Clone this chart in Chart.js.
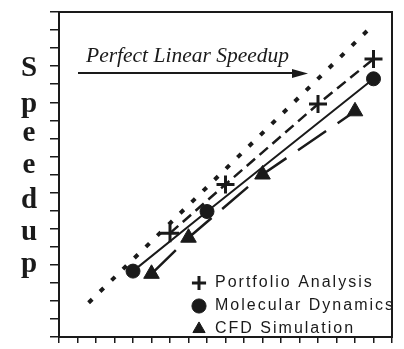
<!DOCTYPE html>
<html>
<head>
<meta charset="utf-8">
<script src="https://cdn.jsdelivr.net/npm/chart.js@4.4.0/dist/chart.umd.min.js"></script>
<style>
  html, body { margin: 0; padding: 0; background: #fff; }
  #wrap { position: relative; width: 404px; height: 349px; overflow: hidden; }
  #speedupChart { position: absolute; left: 0; top: 0; }
  .ylab { position: absolute; left: 14px; width: 30px; text-align: center; font: bold 29px "Liberation Serif", serif; line-height: 29px; color: #1a1a1a; }
  #note { position: absolute; left: 86px; top: 45px; font: italic 21.5px "Liberation Serif", serif; line-height: 21px; color: #1a1a1a; white-space: nowrap; }
</style>
</head>
<body>
<div id="wrap">
  <canvas id="speedupChart" width="404" height="349"></canvas>
  <div id="note">Perfect Linear Speedup</div>
</div>
<script>
        const axisMin = 0;
        const axisMax = 18;
        const tickStep = 1;

        const seriesNames = ['Portfolio Analysis', 'Molecular Dynamics', 'CFD Simulation'];
        const perfectX = [1.6, 17];
        const perfectY = [1.9, 17.3];
        const portfolioX = [6, 9, 14, 17];
        const portfolioY = [5.75, 8.45, 12.9, 15.4];
        const molecularX = [4, 8, 17];
        const molecularY = [3.65, 6.95, 14.3];
        const cfdX = [5, 7, 11, 16];
        const cfdY = [3.5, 5.5, 9.0, 12.5];

        const ink = '#1a1a1a';

        function toPoints(xs, ys) {
            return xs.map((x, i) => ({ x: x, y: ys[i] }));
        }

        // stacked letters for the y title
        const wrap = document.getElementById('wrap');
        const letterBase = [76.7, 112.4, 141.7, 173.3, 208.3, 240, 272];
        'Speedup'.split('').forEach((ch, i) => {
            const s = document.createElement('div');
            s.className = 'ylab';
            s.textContent = ch;
            s.style.top = (letterBase[i] - 24.3) + 'px';
            wrap.appendChild(s);
        });

        const legendSpot = {
            id: 'legendSpot',
            afterLayout(chart) {
                const lg = chart.legend;
                lg.left = 184;
                lg.top = 268;
                lg.right = chart.width;
                lg.bottom = lg.top + 80;
            },
            beforeDraw(chart) {
                chart.ctx.letterSpacing = '2px';
            },
            afterDraw(chart) {
                const ctx = chart.ctx;
                const a = chart.chartArea;
                ctx.save();
                ctx.letterSpacing = '0px';
                ctx.strokeStyle = ink;
                ctx.lineWidth = 2;
                ctx.strokeRect(a.left, a.top, a.right - a.left, a.bottom - a.top);
                // arrow under the note
                ctx.lineWidth = 2;
                ctx.beginPath();
                ctx.moveTo(78, 73);
                ctx.lineTo(296, 73);
                ctx.stroke();
                ctx.fillStyle = ink;
                ctx.beginPath();
                ctx.moveTo(308, 73.5);
                ctx.lineTo(292, 69);
                ctx.lineTo(292, 78);
                ctx.closePath();
                ctx.fill();
                ctx.restore();
            }
        };

        const ctx = document.getElementById('speedupChart').getContext('2d');
        const speedupChart = new Chart(ctx, {
            type: 'scatter',
            data: {
                datasets: [
                    {
                        label: 'Perfect Linear Speedup',
                        data: toPoints(perfectX, perfectY),
                        showLine: true,
                        borderColor: ink,
                        borderWidth: 4,
                        borderDash: [5, 11],
                        pointRadius: 0
                    },
                    {
                        label: seriesNames[0],
                        data: toPoints(portfolioX, portfolioY),
                        showLine: true,
                        borderColor: ink,
                        backgroundColor: ink,
                        borderWidth: 2.5,
                        borderDash: [11, 6],
                        pointStyle: 'cross',
                        pointRadius: 9,
                        pointBorderWidth: 3
                    },
                    {
                        label: seriesNames[1],
                        data: toPoints(molecularX, molecularY),
                        showLine: true,
                        borderColor: ink,
                        backgroundColor: ink,
                        borderWidth: 2,
                        pointStyle: 'circle',
                        pointRadius: 7,
                        pointBorderWidth: 1
                    },
                    {
                        label: seriesNames[2],
                        data: toPoints(cfdX, cfdY),
                        showLine: true,
                        borderColor: ink,
                        backgroundColor: ink,
                        borderWidth: 2.5,
                        borderDash: [34, 14],
                        pointStyle: 'triangle',
                        pointRadius: 9,
                        pointBorderWidth: 1
                    }
                ]
            },
            options: {
                responsive: false,
                animation: false,
                layout: {
                    padding: { left: 50, right: 7, top: 6, bottom: 0 }
                },
                plugins: {
                    tooltip: { enabled: false },
                    legend: {
                        position: 'chartArea',
                        align: 'start',
                        labels: {
                            usePointStyle: true,
                            boxWidth: 16,
                            boxHeight: 10,
                            padding: 7,
                            color: ink,
                            font: { family: 'Liberation Sans', size: 16 },
                            filter: (item) => item.datasetIndex > 0,
                            generateLabels(chart) {
                                const items = Chart.defaults.plugins.legend.labels.generateLabels(chart);
                                items.forEach(it => { it.lineDash = []; it.lineWidth = it.datasetIndex === 1 ? 3 : 1; });
                                return items;
                            }
                        }
                    }
                },
                scales: {
                    x: {
                        type: 'linear',
                        min: axisMin,
                        max: axisMax,
                        ticks: { display: false, stepSize: tickStep, autoSkip: false },
                        grid: { display: true, drawOnChartArea: false, drawTicks: true, tickLength: 6, color: ink, lineWidth: 1.5 },
                        border: { display: false }
                    },
                    y: {
                        type: 'linear',
                        min: axisMin,
                        max: axisMax,
                        ticks: { display: false, stepSize: tickStep, autoSkip: false },
                        grid: { display: true, drawOnChartArea: false, drawTicks: true, tickLength: 9, color: ink, lineWidth: 1.5 },
                        border: { display: false }
                    }
                }
            },
            plugins: [legendSpot]
        });
</script>
</body>
</html>
